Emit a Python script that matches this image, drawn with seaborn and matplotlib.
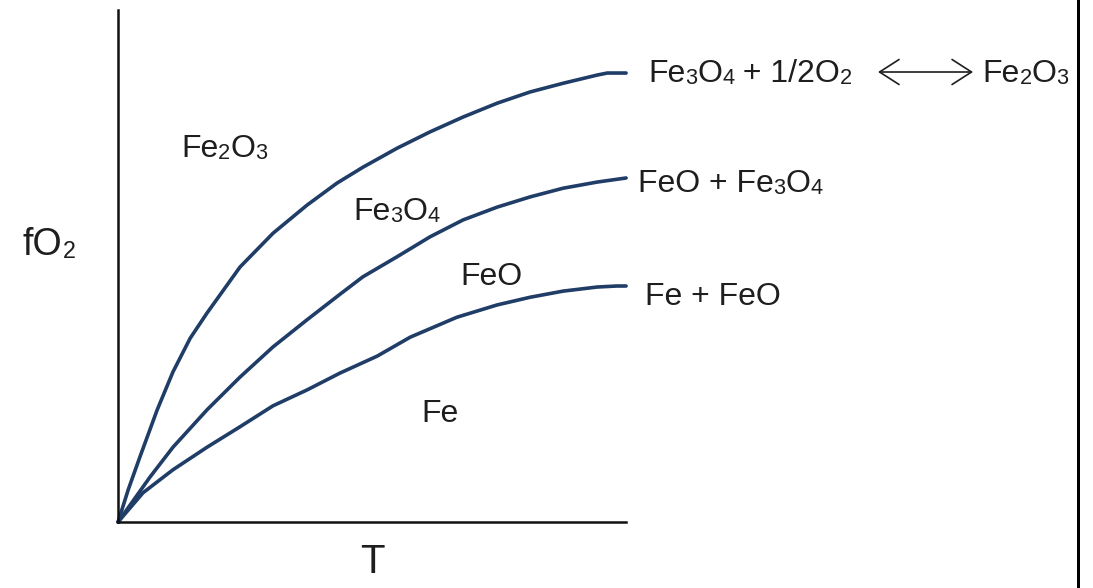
import re
import matplotlib
matplotlib.use("Agg")
import matplotlib.pyplot as plt
from matplotlib.patches import Rectangle
import seaborn as sns

# phase boundaries (T and fO2 in arbitrary units)
t_hm = [0, 2.0, 4.3, 7.7, 10.8, 14.2, 17.5, 24.0, 30.5, 37.2, 43.1, 48.2, 54.9,
        61.4, 67.9, 74.6, 81.1, 87.6, 94.3, 96.3, 100]
fo2_hm = [0, 6.3, 12.7, 21.9, 29.3, 35.9, 40.8, 49.8, 56.4, 61.9, 66.2, 69.3, 73.0,
          76.2, 79.1, 81.8, 84.0, 85.7, 87.3, 87.7, 87.7]

t_mw = [0, 6.3, 10.8, 17.5, 24.0, 30.5, 37.2, 43.7, 48.2, 54.9, 61.4, 67.9, 74.6,
        81.1, 87.6, 94.3, 100]
fo2_mw = [0, 8.8, 14.6, 21.9, 28.3, 34.2, 39.5, 44.5, 47.9, 51.8, 55.7, 59.0, 61.5,
          63.5, 65.2, 66.4, 67.2]

t_iw = [0, 4.9, 10.8, 17.5, 24.0, 30.5, 37.2, 43.7, 51.0, 57.5, 66.7, 74.6, 81.1,
        87.6, 94.3, 98.2, 100]
fo2_iw = [0, 5.7, 10.2, 14.6, 18.6, 22.7, 25.8, 29.1, 32.4, 36.1, 40.0, 42.4, 43.9,
          45.1, 45.9, 46.1, 46.1]

# labels ("_3" = subscript 3)
field_labels = ["Fe_2O_3", "Fe_3O_4", "FeO", "Fe"]
field_pos = [(12.4, 71.3), (46.3, 59.0), (67.3, 46.3), (59.8, 19.5)]
buffer_labels = ["Fe_3O_4 + 1/2O_2", "FeO + Fe_3O_4", "Fe + FeO"]
buffer_pos = [(104.3, 85.9), (102.3, 64.5), (103.7, 42.4)]

LINE = "#1f3d66"
INK = "#1e1e1e"
SIZE = 23
SUB = 0.68

sns.set_style("white")
plt.rcParams["font.family"] = ["Liberation Sans", "DejaVu Sans"]

fig = plt.figure(figsize=(10.93, 5.88), dpi=100)
ax = fig.add_axes([0.108, 0.1122, 0.4648, 0.8707])

for t, f in [(t_hm, fo2_hm), (t_mw, fo2_mw), (t_iw, fo2_iw)]:
    sns.lineplot(x=t, y=f, ax=ax, color=LINE, lw=2.6, clip_on=False)

ax.set_xlim(0, 100)
ax.set_ylim(0, 100)
ax.set_xticks([])
ax.set_yticks([])
sns.despine(ax=ax)
for side in ["left", "bottom"]:
    ax.spines[side].set_color("#111111")
    ax.spines[side].set_linewidth(1.8)


def formula(x, y, label, size=SIZE, sub=SUB, transform=None):
    # draw a chemical formula piece by piece, digits after "_" smaller
    bits = re.split(r"_(\d)", label)
    t = ax.text(x, y, bits[0], fontsize=size, color=INK, va="baseline",
                transform=transform if transform is not None else ax.transData,
                clip_on=False)
    for i, s in enumerate(bits[1:]):
        if not s:
            continue
        fs = size * sub if i % 2 == 0 else size
        t = ax.annotate(s, xy=(1, 0), xycoords=t, va="bottom", ha="left",
                        fontsize=fs, color=INK, annotation_clip=False)
    return t


for lab, (x, y) in zip(field_labels, field_pos):
    formula(x, y, lab)
for lab, (x, y) in zip(buffer_labels, buffer_pos):
    formula(x, y, lab)

# reaction arrow and product
ax.annotate("", xy=(149.6, 87.9), xytext=(168.3, 87.9), annotation_clip=False,
            arrowprops=dict(arrowstyle="<->, head_length=0.7, head_width=0.45",
                            color=INK, lw=1.2, mutation_scale=20,
                            shrinkA=0, shrinkB=0))
formula(170.1, 85.9, "Fe_2O_3")

formula(0.021, 0.566, "fO_2", size=27, sub=0.62, transform=fig.transFigure)
ax.set_xlabel("T", fontsize=29, color=INK, labelpad=15)

# frame edge on the right of the original picture
fig.add_artist(Rectangle((1080 / 1093, 0), 13 / 1093, 1, transform=fig.transFigure,
                         facecolor="white", edgecolor="none", zorder=10))
fig.add_artist(Rectangle((1077 / 1093, 0), 3 / 1093, 1, transform=fig.transFigure,
                         facecolor="black", edgecolor="none", zorder=11))

fig.savefig("out.png", dpi=100)
